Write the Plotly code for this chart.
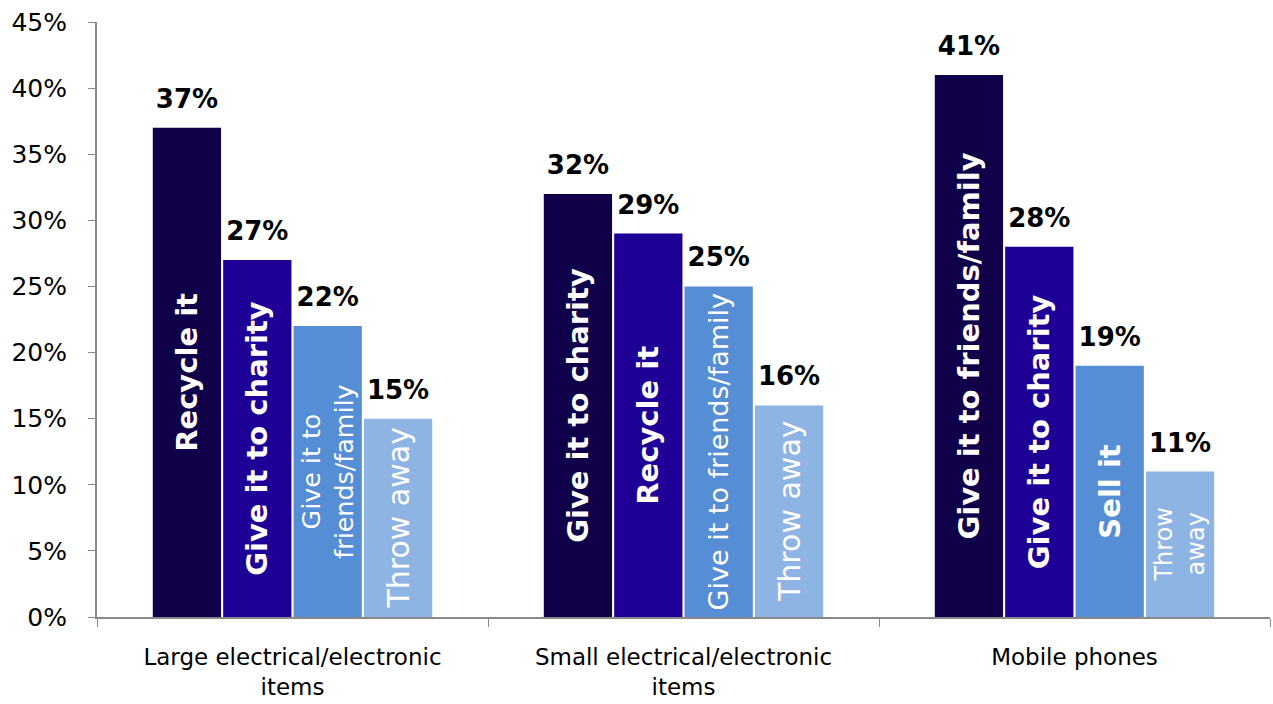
import plotly.graph_objects as go

categories = ["Large electrical/electronic<br>items",
              "Small electrical/electronic<br>items",
              "Mobile phones"]

# answers ranked 1..4 within each category
rank_labels = [
    ["<b>Recycle it</b>", "<b>Give it to charity</b>", "<b>Give it to friends/family</b>"],
    ["<b>Give it to charity</b>", "<b>Recycle it</b>", "<b>Give it to charity</b>"],
    ["Give it to<br>friends/family", "Give it to friends/family", "<b>Sell it</b>"],
    ["Throw away", "Throw away", "Throw<br>away"],
]
rank_values = [
    [37, 32, 41],
    [27, 29, 28],
    [22, 25, 19],
    [15, 16, 11],
]
rank_label_sizes = [
    [29, 29, 29],
    [29, 29, 29],
    [26, 27, 29],
    [30, 30, 24],
]
rank_colors = ["#10004A", "#1F0096", "#558ED5", "#8EB4E3"]

FONT = "Verdana, DejaVu Sans, sans-serif"

fig = go.Figure()
for i in range(4):
    grp = f"r{i}"
    fig.add_trace(go.Bar(
        x=categories, y=rank_values[i], offsetgroup=grp,
        marker=dict(color=rank_colors[i], line=dict(width=0)),
        text=rank_labels[i], textposition="inside", insidetextanchor="middle",
        textangle=-90,
        textfont=dict(family=FONT, color="white", size=rank_label_sizes[i]),
        showlegend=False, hoverinfo="skip",
    ))
for i in range(4):
    grp = f"r{i}"
    fig.add_trace(go.Scatter(
        x=categories, y=rank_values[i], offsetgroup=grp,
        mode="markers+text",
        marker=dict(size=20, opacity=0),
        text=[f"<b>{v}%</b>" for v in rank_values[i]], textposition="top center",
        textfont=dict(family=FONT, color="black", size=26),
        cliponaxis=False, showlegend=False, hoverinfo="skip",
    ))

fig.update_layout(
    width=1273, height=704,
    margin=dict(l=97, r=3, t=22, b=87),
    barmode="group", bargap=0.28, bargroupgap=0.03,
    scattermode="group", scattergap=0.28,
    plot_bgcolor="white", paper_bgcolor="white",
    font=dict(family=FONT, size=23, color="black"),
)
fig.update_xaxes(
    showline=True, linecolor="#898989", linewidth=2,
    ticks="outside", tickson="boundaries", ticklen=8, tickcolor="#898989",
    tickfont=dict(family=FONT, size=23, color="black"),
    ticklabelstandoff=18,
    showgrid=False, automargin=False,
)
fig.update_yaxes(
    range=[0, 45], dtick=5, ticksuffix="%",
    showline=True, linecolor="#898989", linewidth=2,
    ticks="outside", ticklen=7, tickcolor="#898989",
    tickfont=dict(family=FONT, size=25, color="black"),
    ticklabelstandoff=16,
    showgrid=False, zeroline=False, automargin=False,
)

fig.write_html("out.html",
               config={"displayModeBar": False},
               post_script="document.body.style.margin='0';document.body.style.overflow='hidden';")
